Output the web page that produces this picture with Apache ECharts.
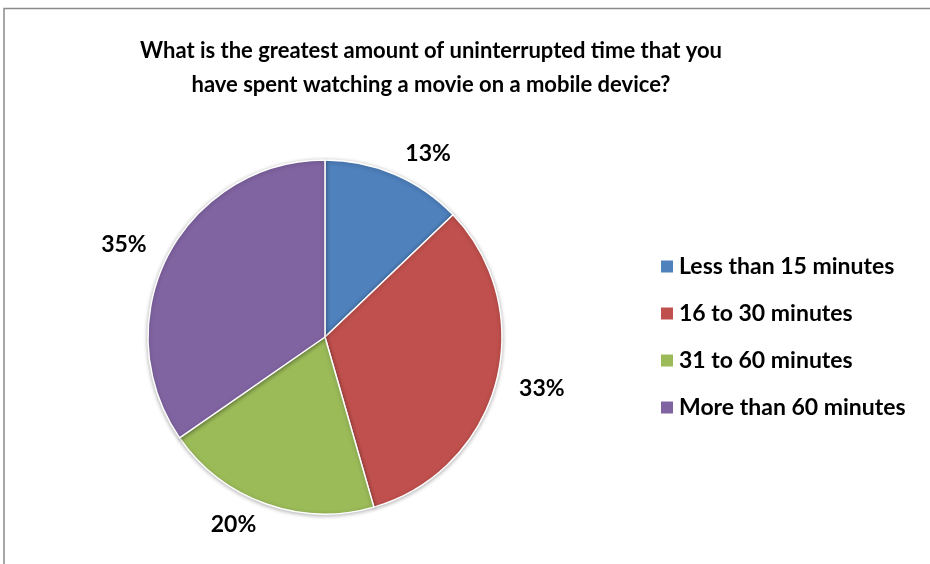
<!DOCTYPE html>
<html>
<head>
<meta charset="utf-8">
<script src="https://cdn.jsdelivr.net/npm/echarts@6/dist/echarts.min.js"></script>
<style>
  html, body { margin: 0; padding: 0; background: #fff; }
  #main { width: 930px; height: 564px; }
</style>
</head>
<body>
<div id="main"></div>
<script>
var categories = ['Less than 15 minutes', '16 to 30 minutes', '31 to 60 minutes', 'More than 60 minutes'];
var percents = [13, 33, 20, 35];
var colors = ['#4F81BD', '#C0504D', '#9BBB59', '#8064A2'];

var myChart = echarts.init(document.getElementById('main'));

var option = {
    color: colors,
    animation: false,
    title: {
        text: 'What is the greatest amount of uninterrupted time that you\nhave spent watching a movie on a mobile device?',
        left: 426,
        top: 29,
        textAlign: 'center',
        textStyle: {
            fontFamily: 'Lato',
            fontWeight: 'bold',
            fontSize: 22,
            lineHeight: 34,
            color: '#000'
        }
    },
    legend: {
        orient: 'vertical',
        left: 654,
        top: 250,
        itemGap: 24,
        itemWidth: 14,
        itemHeight: 14,
        icon: 'rect',
        data: categories,
        textStyle: {
            fontFamily: 'Lato',
            fontWeight: 'bold',
            fontSize: 23,
            letterSpacing: 0.3,
            color: '#000'
        }
    },
    graphic: [{
        type: 'polyline',
        shape: { points: [[4, 564], [4, 8.5], [930, 8.5]] },
        style: { fill: 'none', stroke: '#8a8a8a', lineWidth: 1.5 },
        silent: true
    }],
    series: [{
        type: 'pie',
        center: [325, 337],
        radius: 177,
        startAngle: 90,
        clockwise: true,
        avoidLabelOverlap: false,
        itemStyle: {
            borderColor: '#fff',
            borderWidth: 1.5,
            shadowBlur: 4,
            shadowOffsetY: 1,
            shadowColor: 'rgba(0,0,0,0.3)'
        },
        label: {
            show: true,
            position: 'outside',
            formatter: '{c}%',
            fontFamily: 'Lato',
            fontWeight: 'bold',
            fontSize: 23,
            color: '#000',
            distanceToLabelLine: 2
        },
        labelLine: { show: false, length: 22, length2: 0 },
        emphasis: { scale: false },
        data: categories.map(function (name, i) {
            return { name: name, value: percents[i] };
        })
    }]
};

myChart.setOption(option);
</script>
</body>
</html>
